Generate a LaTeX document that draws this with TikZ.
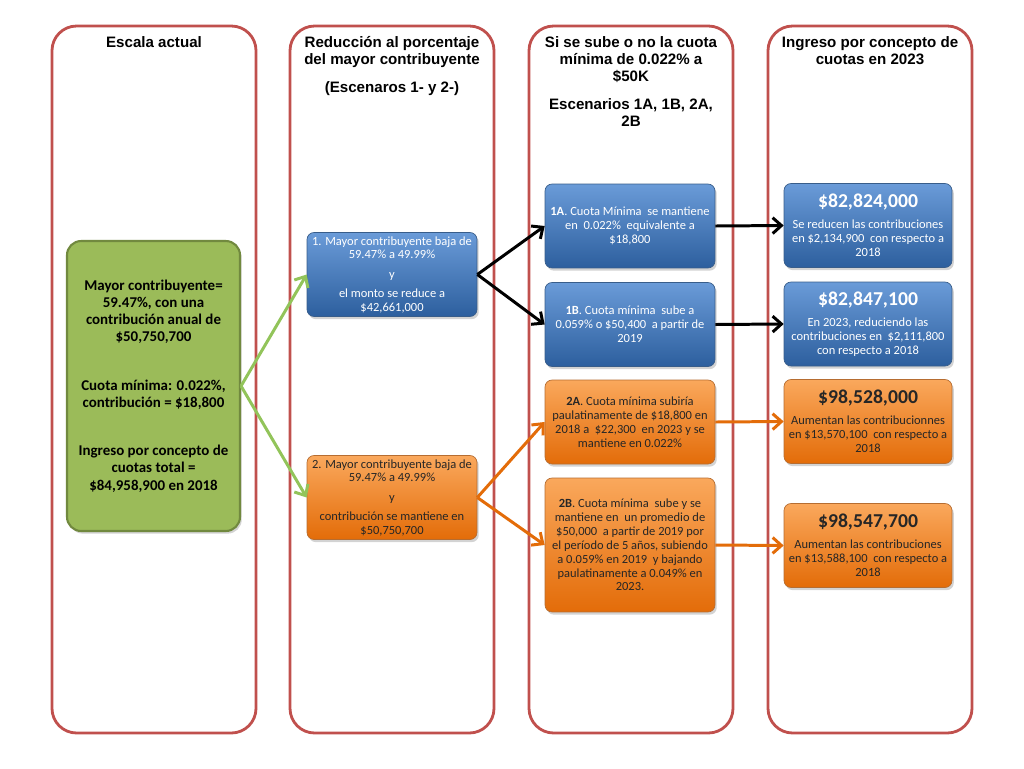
\documentclass[tikz,border=0pt]{standalone}
\usepackage{fontspec}
\setmainfont{Carlito}
\newfontfamily\headfont{Liberation Sans}
\usepackage{tikz}
\usetikzlibrary{shapes,arrows.meta,shadows}

\definecolor{colframe}{HTML}{C0504D}
\definecolor{actgreen}{HTML}{9BBB59}
\definecolor{actgreendark}{HTML}{71893F}
\definecolor{arrgreen}{HTML}{92C45A}
\definecolor{bluetop}{HTML}{6A9BD8}
\definecolor{bluebot}{HTML}{2D5F9E}
\definecolor{blueline}{HTML}{385D8A}
\definecolor{orangetop}{HTML}{FAA85C}
\definecolor{orangebot}{HTML}{E36C09}
\definecolor{orangeline}{HTML}{B66D31}

\newcommand\headtext{\headfont\bfseries\fontsize{8.6}{9.8}\selectfont}
\newcommand\boxtext{\fontsize{7.1}{7.9}\selectfont}
\newcommand\bignum[1]{{\bfseries\fontsize{11.2}{12.5}\selectfont #1}}

\begin{document}
\begin{tikzpicture}[x=0.02cm, y=-0.02cm,
  column/.style={draw=colframe, line width=1.6pt, rounded corners=14pt},
  head/.style={anchor=north, align=center, font=\headtext, inner sep=0pt},
  box/.style={rounded corners=4pt, align=center, font=\boxtext, text=white,
    minimum width=3.4cm, minimum height=1.68cm, inner sep=2pt,
    drop shadow={opacity=0.35, shadow xshift=1pt, shadow yshift=-1.5pt}},
  bluebox/.style={box, draw=blueline, top color=bluetop, bottom color=bluebot},
  orangebox/.style={box, draw=orangeline, text=black!85, top color=orangetop, bottom color=orangebot},
  greenbox/.style={rounded corners=8pt, align=center, draw=actgreendark, line width=1.2pt,
    fill=actgreen, minimum width=3.46cm, minimum height=5.8cm,
    font=\bfseries\fontsize{8.5}{9.7}\selectfont,
    drop shadow={opacity=0.35, shadow xshift=1pt, shadow yshift=-1.5pt}},
  link/.style={line width=1.7pt, -{Straight Barb[length=5pt, width=9pt]}}
  ]
  \useasboundingbox (0,0) rectangle (1024,768);
  \foreach \cx in {52,290,529,768}
    \draw[column] (\cx,26) rectangle ++(204,707);

  \node[head] (t1) at (154,36) {Escala actual};
  \node[head] (t2) at (392,36) {Reducción al porcentaje\\del mayor contribuyente\\[6pt](Escenaros 1- y 2-)};
  \node[head] (t3) at (631,36) {Si se sube o no la cuota\\mínima de 0.022\% a\\\$50K\\[6pt]Escenarios 1A, 1B, 2A,\\2B};
  \node[head] (t4) at (870,36) {Ingreso por concepto de\\cuotas en 2023};

  \node[greenbox] (actual) at (153.5,386) {Mayor contribuyente=\\59.47\%, con una\\contribución anual de\\\$50,750,700\\[18pt]Cuota mínima: 0.022\%,\\contribución = \$18,800\\[18pt]Ingreso por concepto de\\cuotas total =\\\$84,958,900 en 2018};

  \node[bluebox] (esc1) at (392,274.5) {1. Mayor contribuyente baja de\\59.47\% a 49.99\%\\[3pt]y\\[3pt]el monto se reduce a\\\$42,661,000};
  \node[orangebox] (esc2) at (392,497.5) {2. Mayor contribuyente baja de\\59.47\% a 49.99\%\\[3pt]y\\[3pt]contribución se mantiene en\\\$50,750,700};

  \node[bluebox] (e1a) at (630,226) {\textbf{1A}. Cuota Mínima\ \ se mantiene\\en\ \ 0.022\%\ \ equivalente a\\\$18,800};
  \node[bluebox] (e1b) at (630,324.5) {\textbf{1B}. Cuota mínima\ \ sube a\\0.059\% o \$50,400\ \ a partir de\\2019};
  \node[orangebox] (e2a) at (630,422) {\textbf{2A}. Cuota mínima subiría\\paulatinamente de \$18,800 en\\2018 a\ \ \$22,300\ \ en 2023 y se\\mantiene en 0.022\%};
  \node[orangebox, minimum height=2.68cm] (e2b) at (630,545) {\textbf{2B}. Cuota mínima\ \ sube y se\\mantiene en\ \ un promedio de\\\$50,000\ \ a partir de 2019 por\\el período de 5 años, subiendo\\a 0.059\% en 2019\ \ y bajando\\paulatinamente a 0.049\% en\\2023.};

  \node[bluebox, minimum width=3.36cm] (r1a) at (868,225.5) {\bignum{\$82,824,000}\\[4pt]Se reducen las contribuciones\\en \$2,134,900\ \ con respecto a\\2018};
  \node[bluebox, minimum width=3.36cm] (r1b) at (868,324) {\bignum{\$82,847,100}\\[4pt]En 2023, reduciendo las\\contribuciones en\ \ \$2,111,800\\con respecto a 2018};
  \node[orangebox, minimum width=3.36cm] (r2a) at (868,421.5) {\bignum{\$98,528,000}\\[4pt]Aumentan las contribucionnes\\en \$13,570,100\ \ con respecto a\\2018};
  \node[orangebox, minimum width=3.36cm] (r2b) at (868,545.5) {\bignum{\$98,547,700}\\[4pt]Aumentan las contribuciones\\en \$13,588,100\ \ con respecto a\\2018};

  \draw[link, arrgreen] (actual.east) -- (esc1.west);
  \draw[link, arrgreen] (actual.east) -- (esc2.west);
  \draw[link, black] (esc1.east) -- (e1a.west);
  \draw[link, black] (esc1.east) -- (e1b.west);
  \draw[link, orangebot] (esc2.east) -- (e2a.west);
  \draw[link, orangebot] (esc2.east) -- (e2b.west);
  \draw[link, black] (e1a.east) -- (r1a.west);
  \draw[link, black] (e1b.east) -- (r1b.west);
  \draw[link, orangebot] (e2a.east) -- (r2a.west);
  \draw[link, orangebot] (e2b.east) -- (r2b.west);
\end{tikzpicture}
\end{document}
